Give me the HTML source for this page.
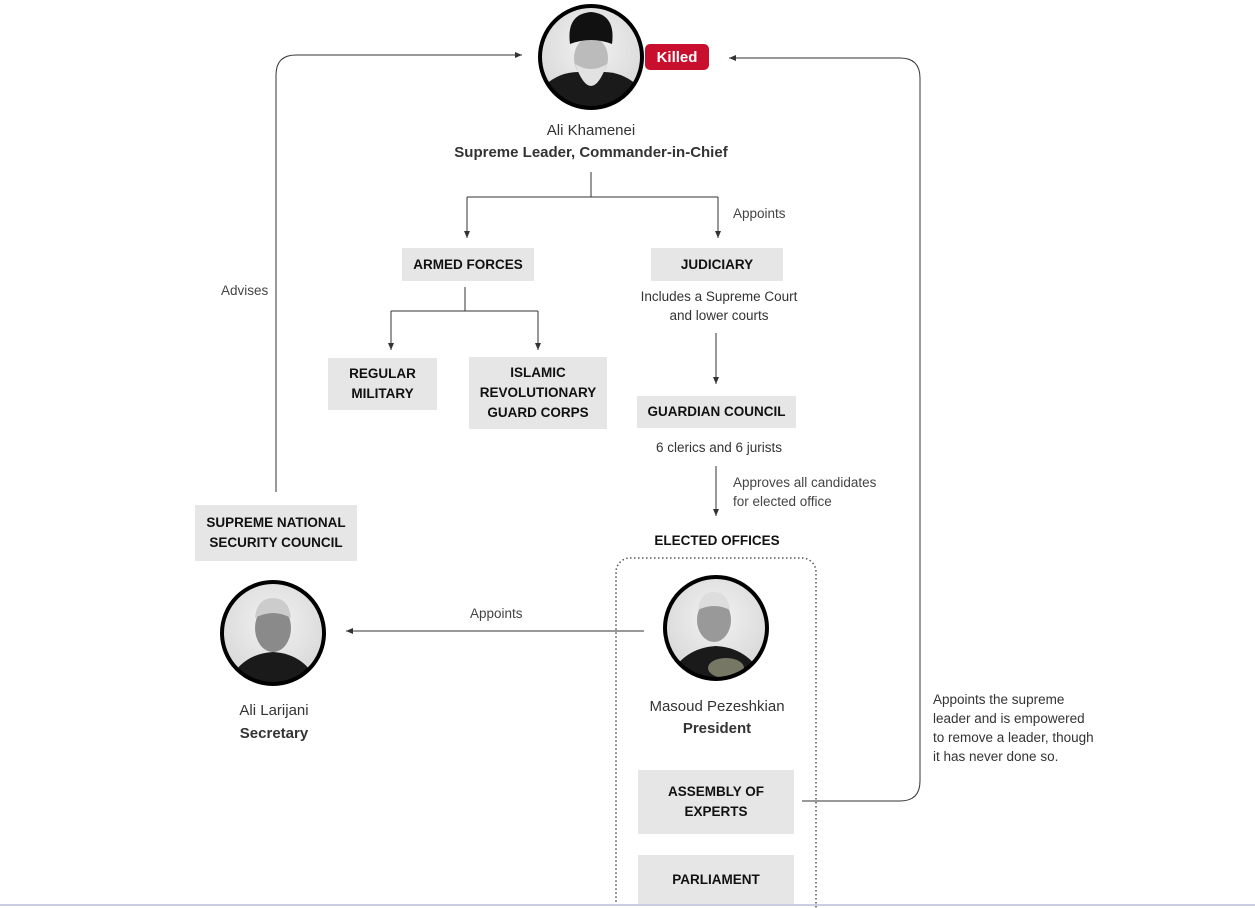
<!DOCTYPE html>
<html><head><meta charset="utf-8"><style>
body{margin:0;width:1255px;height:908px;background:#fff;position:relative;overflow:hidden;font-family:"Liberation Sans",sans-serif;color:#222}
.t{position:absolute;white-space:nowrap;text-align:center;transform:translateX(-50%);font-size:14px;line-height:19px}
.l{position:absolute;white-space:nowrap;font-size:13.5px;line-height:19px;color:#444}
.box{position:absolute;background:#e6e6e6;display:flex;align-items:center;justify-content:center;text-align:center;font-weight:bold;font-size:13.5px;line-height:20px;color:#111}
svg{position:absolute;left:0;top:0}
</style></head><body>
<svg width="1255" height="908">
<defs>
<marker id="a" markerWidth="8" markerHeight="8" refX="7" refY="4" orient="auto"><path d="M0,1 L7,4 L0,7 Z" fill="#333"/></marker>
<radialGradient id="g" cx="50%" cy="40%" r="60%"><stop offset="0" stop-color="#f2f2f2"/><stop offset="1" stop-color="#d8d8d8"/></radialGradient>
<clipPath id="c1"><circle cx="591" cy="57" r="51"/></clipPath>
<clipPath id="c2"><circle cx="273" cy="633" r="51"/></clipPath>
<clipPath id="c3"><circle cx="716" cy="628" r="51"/></clipPath>
</defs>
<g stroke="#333" stroke-width="1" fill="none">
<path d="M591,172 V197 M467,197 H718"/>
<path d="M467,197 V238" marker-end="url(#a)"/>
<path d="M718,197 V238" marker-end="url(#a)"/>
<path d="M465,287 V311 M391,311 H538"/>
<path d="M391,311 V350" marker-end="url(#a)"/>
<path d="M538,311 V350" marker-end="url(#a)"/>
<path d="M716,333 V384" marker-end="url(#a)"/>
<path d="M716,466 V516" marker-end="url(#a)"/>
<path d="M276,492 V75 Q276,55 296,55 H522" marker-end="url(#a)"/>
<path d="M644,631 H346" marker-end="url(#a)"/>
<path d="M802,801 H900 Q920,801 920,781 V78 Q920,58 900,58 H729" marker-end="url(#a)"/>
</g>
<rect x="616" y="558" width="200" height="370" rx="14" fill="none" stroke="#555" stroke-width="1.5" stroke-dasharray="1.5,2.5"/>
<line x1="0" y1="905" x2="1255" y2="905" stroke="#c9cde0" stroke-width="2"/>
<g clip-path="url(#c1)">
<circle cx="591" cy="57" r="51" fill="url(#g)"/>
<path d="M540,110 L545,85 Q560,72 578,72 L604,72 Q622,72 637,85 L642,110Z" fill="#1a1a1a"/>
<ellipse cx="591" cy="58" rx="17" ry="21" fill="#bbb"/>
<path d="M570,44 Q566,14 591,12 Q616,14 612,44 Q591,36 570,44Z" fill="#111"/>
<path d="M575,64 Q591,108 607,64 Q591,74 575,64Z" fill="#e2e2e2"/>
</g>
<circle cx="591" cy="57" r="51" fill="none" stroke="#000" stroke-width="4"/>
<rect x="645" y="44" width="64" height="26" rx="5" fill="#c8102e"/>
<text x="677" y="62" fill="#fff" font-family="Liberation Sans" font-weight="bold" font-size="15" text-anchor="middle">Killed</text>
<g clip-path="url(#c2)">
<circle cx="273" cy="633" r="51" fill="url(#g)"/>
<path d="M225,690 Q238,654 273,652 Q308,654 321,690Z" fill="#1a1a1a"/>
<ellipse cx="273" cy="628" rx="18" ry="24" fill="#8a8a8a"/>
<path d="M255,618 Q257,598 273,598 Q289,598 291,618 Q273,608 255,618Z" fill="#ccc"/>
</g>
<circle cx="273" cy="633" r="51" fill="none" stroke="#000" stroke-width="4"/>
<g clip-path="url(#c3)">
<circle cx="716" cy="628" r="51" fill="url(#g)"/>
<path d="M665,685 Q680,648 716,646 Q752,648 767,685Z" fill="#1a1a1a"/>
<ellipse cx="714" cy="620" rx="17" ry="22" fill="#999"/>
<path d="M698,610 Q700,592 714,592 Q728,592 730,610 Q714,602 698,610Z" fill="#ddd"/>
<ellipse cx="726" cy="668" rx="18" ry="10" fill="#776"/>
</g>
<circle cx="716" cy="628" r="51" fill="none" stroke="#000" stroke-width="4"/>
</svg>

<div class="t" style="left:591px;top:121px;font-size:15px;color:#333">Ali Khamenei</div>
<div class="t" style="left:591px;top:143px;font-size:15px;font-weight:bold;color:#333">Supreme Leader, Commander-in-Chief</div>
<div class="l" style="left:733px;top:204px">Appoints</div>
<div class="box" style="left:402px;top:248px;width:132px;height:33px">ARMED FORCES</div>
<div class="box" style="left:651px;top:248px;width:132px;height:33px">JUDICIARY</div>
<div class="t" style="left:719px;top:287px;color:#333;font-size:13.5px">Includes a Supreme Court</div>
<div class="t" style="left:719px;top:306px;color:#333;font-size:13.5px">and lower courts</div>
<div class="box" style="left:328px;top:358px;width:109px;height:52px">REGULAR<br>MILITARY</div>
<div class="box" style="left:469px;top:357px;width:138px;height:72px">ISLAMIC<br>REVOLUTIONARY<br>GUARD CORPS</div>
<div class="box" style="left:637px;top:396px;width:159px;height:32px">GUARDIAN COUNCIL</div>
<div class="t" style="left:719px;top:438px;color:#333;font-size:13.5px">6 clerics and 6 jurists</div>
<div class="l" style="left:733px;top:473px">Approves all candidates</div>
<div class="l" style="left:733px;top:492px">for elected office</div>
<div class="t" style="left:717px;top:531px;font-weight:bold;font-size:13.5px;color:#111">ELECTED OFFICES</div>
<div class="l" style="left:221px;top:281px">Advises</div>
<div class="box" style="left:195px;top:505px;width:162px;height:56px">SUPREME NATIONAL<br>SECURITY COUNCIL</div>
<div class="l" style="left:470px;top:604px">Appoints</div>
<div class="t" style="left:274px;top:701px;font-size:15px;color:#333">Ali Larijani</div>
<div class="t" style="left:274px;top:724px;font-size:15px;font-weight:bold;color:#333">Secretary</div>
<div class="t" style="left:717px;top:697px;font-size:15px;color:#333">Masoud Pezeshkian</div>
<div class="t" style="left:717px;top:719px;font-size:15px;font-weight:bold;color:#333">President</div>
<div class="box" style="left:638px;top:770px;width:156px;height:64px">ASSEMBLY OF<br>EXPERTS</div>
<div class="box" style="left:638px;top:855px;width:156px;height:49px">PARLIAMENT</div>
<div class="l" style="left:933px;top:690px;color:#333">Appoints the supreme</div>
<div class="l" style="left:933px;top:709px;color:#333">leader and is empowered</div>
<div class="l" style="left:933px;top:728px;color:#333">to remove a leader, though</div>
<div class="l" style="left:933px;top:747px;color:#333">it has never done so.</div>
</body></html>
